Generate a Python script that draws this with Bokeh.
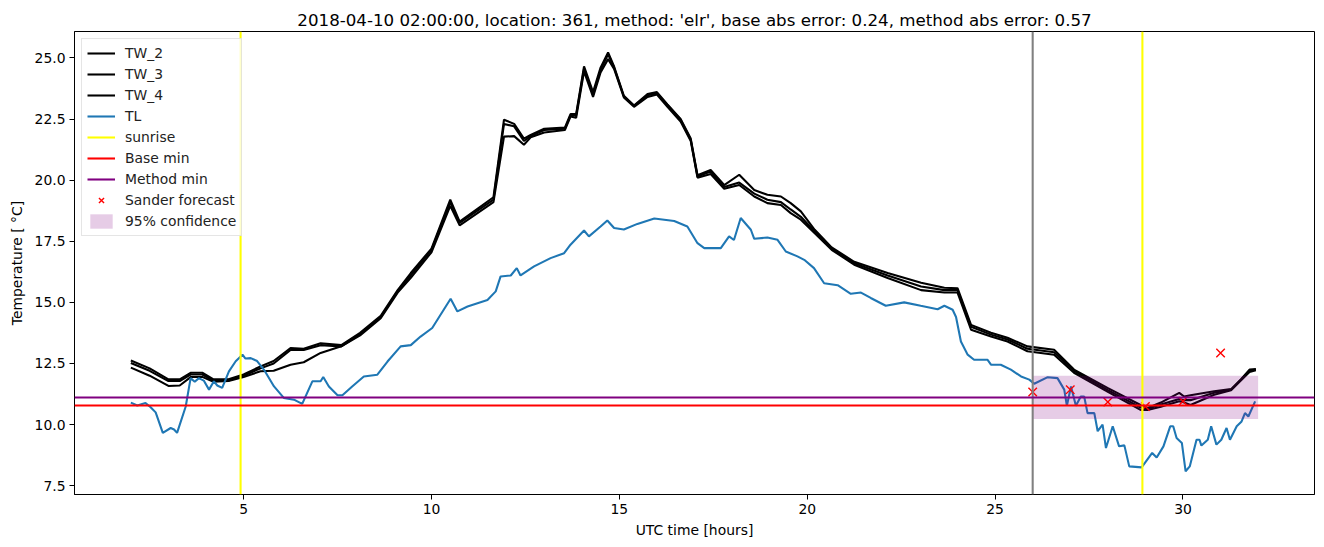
from bokeh.plotting import figure
from bokeh.models import Range1d, Span, Legend, LegendItem, FixedTicker, NumeralTickFormatter
from bokeh.embed import file_html
from bokeh.resources import INLINE

# ---------------- data ----------------
title_text = "2018-04-10 02:00:00, location: 361, method: 'elr', base abs error: 0.24, method abs error: 0.57"

tw_time = [2.0, 2.5, 3.0, 3.3, 3.6, 3.9, 4.2, 4.6, 5.0, 5.45, 5.8, 6.25, 6.6, 7.05, 7.6, 8.1, 8.65,
           9.1, 9.45, 10.0, 10.5, 10.75, 11.65, 11.93, 12.2, 12.46, 12.64, 13.0, 13.55, 13.7, 13.85,
           14.06, 14.3, 14.5, 14.7, 14.86, 15.12, 15.39, 15.75, 16.0, 16.28, 16.63, 16.9, 17.08,
           17.43, 17.79, 18.19, 18.59, 18.94, 19.3, 19.56, 19.83, 20.2, 20.65, 21.25, 22.14, 23.03,
           23.65, 24.0, 24.36, 24.89, 25.33, 25.86, 26.57, 27.1, 27.99, 28.87, 29.06, 29.41, 29.9,
           30.03, 30.2, 30.83, 31.28, 31.54, 31.77, 31.94]
tw_2 = [12.62, 12.3, 11.85, 11.85, 12.12, 12.12, 11.85, 11.85, 12.05, 12.38, 12.6, 13.13, 13.1,
        13.33, 13.25, 13.75, 14.45, 15.5, 16.2, 17.2, 19.2, 18.3, 19.3, 22.47, 22.3, 21.7, 21.85,
        22.1, 22.15, 22.7, 22.7, 24.65, 23.6, 24.6, 25.22, 24.65, 23.45, 23.05, 23.52, 23.6, 23.1,
        22.5, 21.7, 20.2, 20.42, 19.8, 20.22, 19.6, 19.4, 19.33, 19.06, 18.72, 17.97, 17.25, 16.66,
        16.2, 15.8, 15.6, 15.58, 14.08, 13.76, 13.55, 13.2, 13.06, 12.25, 11.5, 10.8, 10.68, 10.9,
        11.3, 11.15, 11.2, 11.36, 11.45, 11.85, 12.25, 12.27]
tw_3 = [12.52, 12.2, 11.78, 11.78, 12.05, 12.05, 11.8, 11.8, 12.0, 12.3, 12.5, 13.05, 13.05,
        13.25, 13.2, 13.7, 14.4, 15.45, 16.1, 17.15, 19.1, 18.25, 19.2, 22.3, 22.2, 21.6, 21.8,
        22.05, 22.1, 22.65, 22.65, 24.55, 23.5, 24.5, 25.15, 24.6, 23.42, 23.04, 23.47, 23.55, 23.08,
        22.47, 21.65, 20.15, 20.35, 19.72, 19.9, 19.45, 19.2, 19.1, 18.8, 18.5, 17.9, 17.2, 16.6,
        16.1, 15.65, 15.5, 15.5, 14.0, 13.68, 13.48, 13.1, 12.96, 12.2, 11.42, 10.7, 10.65, 10.82,
        11.05, 11.0, 11.0, 11.3, 11.43, 11.84, 12.2, 12.25]
tw_4 = [12.33, 12.0, 11.58, 11.6, 11.95, 11.95, 11.75, 11.78, 11.95, 12.18, 12.2, 12.45, 12.55,
        12.93, 13.2, 13.65, 14.35, 15.4, 16.0, 17.05, 18.95, 18.15, 19.1, 21.78, 21.8, 21.45, 21.75,
        21.95, 22.05, 22.6, 22.55, 24.45, 23.4, 24.4, 24.95, 24.55, 23.38, 23.0, 23.4, 23.5, 23.0,
        22.4, 21.6, 20.1, 20.25, 19.65, 19.8, 19.33, 19.06, 18.98, 18.65, 18.38, 17.83, 17.15, 16.54,
        16.0, 15.5, 15.4, 15.4, 13.88, 13.6, 13.4, 13.0, 12.86, 12.12, 11.35, 10.6, 10.6, 10.73,
        10.95, 10.9, 10.8, 11.22, 11.4, 11.8, 12.15, 12.22]

tl_time = [2.0, 2.17, 2.39, 2.52, 2.66, 2.85, 3.06, 3.15, 3.23, 3.46, 3.59, 3.7, 3.81, 3.94, 4.08,
           4.21, 4.3, 4.43, 4.61, 4.79, 4.97, 5.05, 5.19, 5.36, 5.54, 5.81, 6.07, 6.34, 6.56, 6.83,
           7.05, 7.12, 7.27, 7.5, 7.63, 7.89, 8.2, 8.56, 8.83, 9.18, 9.45, 9.71, 10.02, 10.51, 10.69,
           10.96, 11.49, 11.71, 11.84, 12.11, 12.27, 12.37, 12.73, 13.17, 13.53, 13.7, 14.06, 14.19,
           14.5, 14.68, 14.86, 15.12, 15.48, 15.93, 16.46, 16.81, 17.08, 17.26, 17.7, 17.92, 18.05,
           18.23, 18.5, 18.59, 18.94, 19.21, 19.43, 19.74, 19.92, 20.18, 20.45, 20.81, 21.16, 21.43,
           21.69, 22.09, 22.58, 23.02, 23.47, 23.65, 23.87, 23.96, 24.09, 24.27, 24.44, 24.8, 24.89,
           25.15, 25.42, 25.69, 25.91, 26.04, 26.4, 26.66, 26.84, 26.91, 27.02, 27.15, 27.28, 27.37,
           27.46, 27.64, 27.73, 27.86, 27.95, 28.13, 28.3, 28.44, 28.57, 28.9, 29.18, 29.3, 29.48,
           29.66, 29.74, 29.83, 29.97, 30.07, 30.18, 30.36, 30.44, 30.49, 30.66, 30.75, 30.89, 31.02,
           31.16, 31.25, 31.43, 31.56, 31.65, 31.74, 31.92]
tl_temp = [10.9, 10.78, 10.88, 10.72, 10.5, 9.66, 9.86, 9.8, 9.66, 10.74, 11.9, 11.75, 11.9, 11.8,
           11.43, 11.77, 11.6, 11.5, 12.18, 12.59, 12.86, 12.7, 12.72, 12.6, 12.25, 11.56, 11.09,
           11.02, 10.85, 11.77, 11.77, 11.95, 11.56, 11.2, 11.2, 11.56, 11.97, 12.04, 12.58, 13.2,
           13.25, 13.6, 13.95, 15.15, 14.63, 14.83, 15.1, 15.45, 16.06, 16.1, 16.4, 16.1, 16.47,
           16.81, 17.01, 17.36, 17.94, 17.7, 18.1, 18.35, 18.04, 17.98, 18.21, 18.43, 18.33, 18.1,
           17.42, 17.22, 17.22, 17.7, 17.55, 18.45, 17.97, 17.6, 17.65, 17.56, 17.08, 16.88, 16.74,
           16.4, 15.78, 15.7, 15.35, 15.4, 15.18, 14.86, 15.0, 14.86, 14.72, 14.86, 14.7, 14.4, 13.4,
           12.86, 12.65, 12.65, 12.45, 12.45, 12.25, 11.97, 11.84, 11.67, 11.94, 11.9, 11.43, 10.77,
           11.56, 10.77, 11.15, 11.15, 10.47, 10.47, 9.73, 10.0, 9.04, 9.93, 9.11, 9.15, 8.29, 8.25,
           8.84, 8.65, 9.11, 9.93, 9.93, 9.45, 9.25, 8.09, 8.29, 9.38, 9.38, 9.14, 9.38, 9.93, 9.18,
           9.38, 9.86, 9.38, 9.93, 10.13, 10.47, 10.33, 10.95]

sunrise_times = [4.92, 28.92]
forecast_start = 26.0
base_min = 10.78
method_min = 11.11
conf_low = 10.23
conf_high = 12.0
conf_start = 26.0
conf_end = 32.0
forecast_time = [26.0, 27.0, 28.0, 29.0, 30.0, 31.0]
forecast_temp = [11.33, 11.43, 10.92, 10.74, 10.95, 12.93]

x_ticks = [5, 10, 15, 20, 25, 30]
y_ticks = [7.5, 10.0, 12.5, 15.0, 17.5, 20.0, 22.5, 25.0]

# ---------------- figure ----------------
FONT = "DejaVu Sans"
FS = "13.9px"
p = figure(width=1324, height=547, output_backend="svg", toolbar_location=None,
           x_range=Range1d(0.5, 33.5), y_range=Range1d(7.14, 26.08),
           min_border_left=74, min_border_right=10, min_border_top=31, min_border_bottom=53)
p.title.text = title_text
p.title.align = "center"
p.title.text_font = FONT
p.title.text_font_size = "16.67px"
p.title.text_font_style = "normal"
p.title.text_color = "black"
p.title.standoff = 4
p.xgrid.visible = False
p.ygrid.visible = False
p.outline_line_color = "black"
p.outline_line_alpha = 1.0
p.outline_line_width = 1

p.xaxis.axis_label = "UTC time [hours]"
p.yaxis.axis_label = "Temperature [ °C]"
p.xaxis.ticker = FixedTicker(ticks=x_ticks)
p.yaxis.ticker = FixedTicker(ticks=y_ticks)
p.yaxis.formatter = NumeralTickFormatter(format="0.0")
for ax in (p.xaxis[0], p.yaxis[0]):
    ax.axis_label_text_font = FONT
    ax.axis_label_text_font_size = FS
    ax.axis_label_text_font_style = "normal"
    ax.axis_label_text_color = "black"
    ax.major_label_text_font = FONT
    ax.major_label_text_font_size = FS
    ax.major_label_text_color = "black"
    ax.major_tick_out = 5
    ax.major_tick_in = 0
    ax.minor_tick_out = 0
    ax.minor_tick_in = 0
    ax.axis_line_color = "black"
    ax.major_tick_line_color = "black"
p.xaxis.axis_label_standoff = 5
p.yaxis.axis_label_standoff = 7
p.yaxis.major_label_standoff = 4
p.xaxis.major_label_standoff = 4

LW = 2.08
r_tw2 = p.line(tw_time, tw_2, line_color="black", line_width=LW)
r_tw3 = p.line(tw_time, tw_3, line_color="black", line_width=LW)
r_tw4 = p.line(tw_time, tw_4, line_color="black", line_width=LW)
r_tl = p.line(tl_time, tl_temp, line_color="#1f77b4", line_width=LW)

r_band = p.quad(left=[conf_start], right=[conf_end], bottom=[conf_low], top=[conf_high],
                fill_color="purple", fill_alpha=0.2, line_color=None)

# vertical / horizontal reference lines
for t in sunrise_times:
    p.add_layout(Span(location=t, dimension="height", line_color="yellow", line_width=LW))
p.add_layout(Span(location=forecast_start, dimension="height", line_color="gray", line_width=LW))
p.add_layout(Span(location=base_min, dimension="width", line_color="red", line_width=LW))
p.add_layout(Span(location=method_min, dimension="width", line_color="purple", line_width=LW))

# legend proxies (single-point lines draw nothing in the plot)
r_sun = p.line([sunrise_times[0]], [base_min], line_color="yellow", line_width=LW)
r_base = p.line([sunrise_times[0]], [base_min], line_color="red", line_width=LW)
r_meth = p.line([sunrise_times[0]], [method_min], line_color="purple", line_width=LW)

r_fc = p.scatter(forecast_time, forecast_temp, marker="x", size=12, line_color="red", line_width=1.4)

legend = Legend(items=[
    LegendItem(label="TW_2", renderers=[r_tw2]),
    LegendItem(label="TW_3", renderers=[r_tw3]),
    LegendItem(label="TW_4", renderers=[r_tw4]),
    LegendItem(label="TL", renderers=[r_tl]),
    LegendItem(label="sunrise", renderers=[r_sun]),
    LegendItem(label="Base min", renderers=[r_base]),
    LegendItem(label="Method min", renderers=[r_meth]),
    LegendItem(label="Sander forecast", renderers=[r_fc]),
    LegendItem(label="95% confidence", renderers=[r_band]),
], location="top_left")
legend.label_text_font = FONT
legend.label_text_font_size = FS
legend.label_text_color = "#222222"
legend.glyph_width = 28
legend.glyph_height = 18
legend.label_height = 18
legend.spacing = 3
legend.label_standoff = 10
legend.padding = 5
legend.margin = 7
legend.border_line_color = "#cccccc"
legend.border_line_width = 1
legend.background_fill_alpha = 0.8
p.add_layout(legend)

open("out.html", "w").write(file_html(p, INLINE))
